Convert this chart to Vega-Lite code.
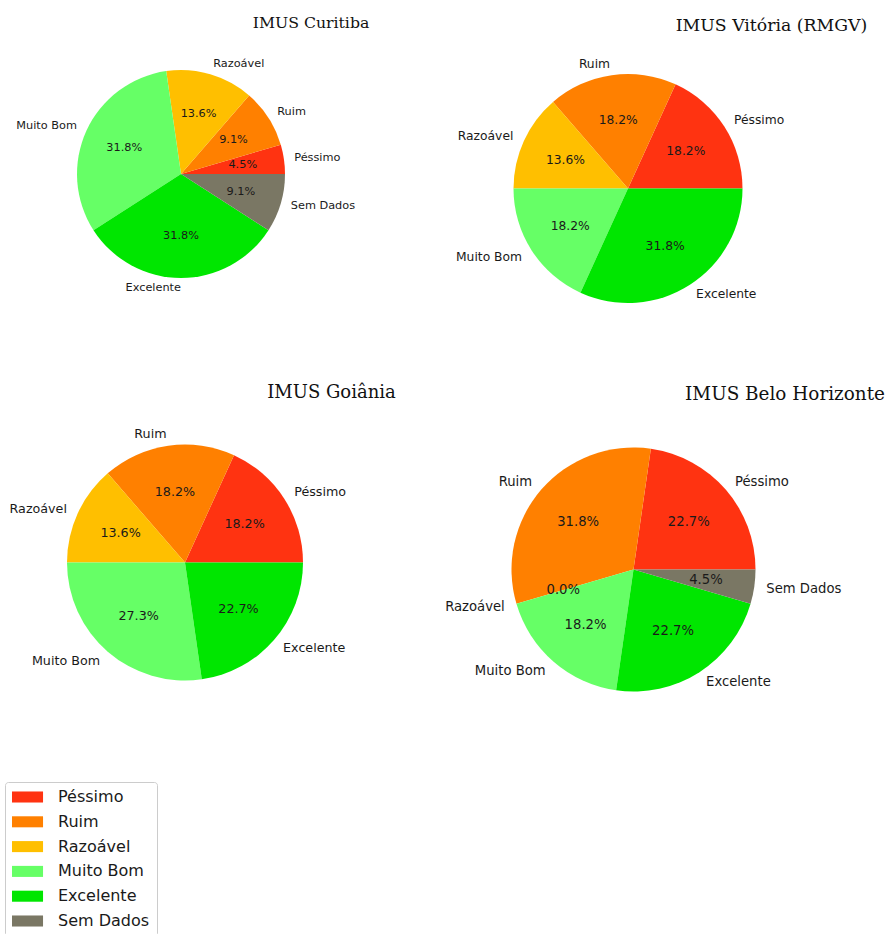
{
  "$schema": "https://vega.github.io/schema/vega-lite/v6.json",
  "padding": {"left": 0, "top": 14, "right": 0, "bottom": 0},
  "background": "white",
  "data": {
    "values": [
      {"city": "Curitiba", "cat": "Péssimo", "k": 1, "n": 1, "share": 0.045},
      {"city": "Curitiba", "cat": "Ruim", "k": 2, "n": 2, "share": 0.091},
      {"city": "Curitiba", "cat": "Razoável", "k": 3, "n": 3, "share": 0.136},
      {"city": "Curitiba", "cat": "Muito Bom", "k": 4, "n": 7, "share": 0.318},
      {"city": "Curitiba", "cat": "Excelente", "k": 5, "n": 7, "share": 0.318},
      {"city": "Curitiba", "cat": "Sem Dados", "k": 6, "n": 2, "share": 0.091},
      {"city": "Vitória", "cat": "Péssimo", "k": 1, "n": 4, "share": 0.182},
      {"city": "Vitória", "cat": "Ruim", "k": 2, "n": 4, "share": 0.182},
      {"city": "Vitória", "cat": "Razoável", "k": 3, "n": 3, "share": 0.136},
      {"city": "Vitória", "cat": "Muito Bom", "k": 4, "n": 4, "share": 0.182},
      {"city": "Vitória", "cat": "Excelente", "k": 5, "n": 7, "share": 0.318},
      {"city": "Goiânia", "cat": "Péssimo", "k": 1, "n": 4, "share": 0.182},
      {"city": "Goiânia", "cat": "Ruim", "k": 2, "n": 4, "share": 0.182},
      {"city": "Goiânia", "cat": "Razoável", "k": 3, "n": 3, "share": 0.136},
      {"city": "Goiânia", "cat": "Muito Bom", "k": 4, "n": 6, "share": 0.273},
      {"city": "Goiânia", "cat": "Excelente", "k": 5, "n": 5, "share": 0.227},
      {"city": "Belo Horizonte", "cat": "Péssimo", "k": 1, "n": 5, "share": 0.227},
      {"city": "Belo Horizonte", "cat": "Ruim", "k": 2, "n": 7, "share": 0.318},
      {"city": "Belo Horizonte", "cat": "Razoável", "k": 3, "n": 0, "share": 0.0},
      {"city": "Belo Horizonte", "cat": "Muito Bom", "k": 4, "n": 4, "share": 0.182},
      {"city": "Belo Horizonte", "cat": "Excelente", "k": 5, "n": 5, "share": 0.227},
      {"city": "Belo Horizonte", "cat": "Sem Dados", "k": 6, "n": 1, "share": 0.045}
    ]
  },
  "bounds": "flush",
  "spacing": 370,
  "vconcat": [
    {
      "bounds": "flush",
      "spacing": 138,
      "hconcat": [
        {
          "width": 362, "height": 268,
          "title": {"text": "IMUS Curitiba", "dx": 130, "offset": 8.5, "fontSize": 15.7},
          "transform": [{"filter": "datum.city == 'Curitiba'"}],
          "layer": [
            {"mark": {"type": "arc", "outerRadius": 104},
             "encoding": {
               "theta": {"field": "n", "type": "quantitative", "stack": true, "scale": {"range": [1.5707963, -4.712389]}},
               "order": {"field": "k", "type": "quantitative"},
               "color": {"field": "cat", "type": "nominal", "scale": {"domain": ["Péssimo", "Ruim", "Razoável", "Muito Bom", "Excelente", "Sem Dados"], "range": ["#ff3311", "#ff8000", "#ffbf00", "#66ff66", "#00e600", "#7a7764"]}}}},
            {"mark": {"type": "text", "radius": 62.4, "fontSize": 11.3},
             "encoding": {
               "theta": {"field": "n", "type": "quantitative", "stack": true},
               "order": {"field": "k", "type": "quantitative"},
               "detail": {"field": "cat"},
               "text": {"field": "share", "type": "quantitative", "format": ".1%"}}},
            {"mark": {"type": "text", "radius": 114.4, "fontSize": 11.3, "align": "left"},
             "encoding": {
               "theta": {"field": "n", "type": "quantitative", "stack": true},
               "order": {"field": "k", "type": "quantitative"},
               "detail": {"field": "cat"},
               "text": {"condition": {"test": "(datum.n_start + datum.n_end) / 44 >= 0.25 && (datum.n_start + datum.n_end) / 44 <= 0.75", "value": ""}, "field": "cat", "type": "nominal"}}},
            {"mark": {"type": "text", "radius": 114.4, "fontSize": 11.3, "align": "right"},
             "encoding": {
               "theta": {"field": "n", "type": "quantitative", "stack": true},
               "order": {"field": "k", "type": "quantitative"},
               "detail": {"field": "cat"},
               "text": {"condition": {"test": "(datum.n_start + datum.n_end) / 44 < 0.25 || (datum.n_start + datum.n_end) / 44 > 0.75", "value": ""}, "field": "cat", "type": "nominal"}}}
          ]
        },
        {
          "width": 256, "height": 297,
          "title": {"text": "IMUS Vitória (RMGV)", "dx": 143.5, "offset": 6, "fontSize": 17.3},
          "transform": [{"filter": "datum.city == 'Vitória'"}],
          "layer": [
            {"mark": {"type": "arc", "outerRadius": 114.5},
             "encoding": {
               "theta": {"field": "n", "type": "quantitative", "stack": true, "scale": {"range": [1.5707963, -4.712389]}},
               "order": {"field": "k", "type": "quantitative"},
               "color": {"field": "cat", "type": "nominal", "scale": {"domain": ["Péssimo", "Ruim", "Razoável", "Muito Bom", "Excelente", "Sem Dados"], "range": ["#ff3311", "#ff8000", "#ffbf00", "#66ff66", "#00e600", "#7a7764"]}}}},
            {"mark": {"type": "text", "radius": 68.7, "fontSize": 12.3},
             "encoding": {
               "theta": {"field": "n", "type": "quantitative", "stack": true},
               "order": {"field": "k", "type": "quantitative"},
               "detail": {"field": "cat"},
               "text": {"field": "share", "type": "quantitative", "format": ".1%"}}},
            {"mark": {"type": "text", "radius": 126, "fontSize": 12.3, "align": "left"},
             "encoding": {
               "theta": {"field": "n", "type": "quantitative", "stack": true},
               "order": {"field": "k", "type": "quantitative"},
               "detail": {"field": "cat"},
               "text": {"condition": {"test": "(datum.n_start + datum.n_end) / 44 >= 0.25 && (datum.n_start + datum.n_end) / 44 <= 0.75", "value": ""}, "field": "cat", "type": "nominal"}}},
            {"mark": {"type": "text", "radius": 126, "fontSize": 12.3, "align": "right"},
             "encoding": {
               "theta": {"field": "n", "type": "quantitative", "stack": true},
               "order": {"field": "k", "type": "quantitative"},
               "detail": {"field": "cat"},
               "text": {"condition": {"test": "(datum.n_start + datum.n_end) / 44 < 0.25 || (datum.n_start + datum.n_end) / 44 > 0.75", "value": ""}, "field": "cat", "type": "nominal"}}}
          ]
        }
      ]
    },
    {
      "bounds": "flush",
      "spacing": 135.5,
      "hconcat": [
        {
          "width": 370, "height": 305,
          "title": {"text": "IMUS Goiânia", "dx": 146.5, "offset": 8.5, "fontSize": 18},
          "transform": [{"filter": "datum.city == 'Goiânia'"}],
          "layer": [
            {"mark": {"type": "arc", "outerRadius": 118},
             "encoding": {
               "theta": {"field": "n", "type": "quantitative", "stack": true, "scale": {"range": [1.5707963, -4.712389]}},
               "order": {"field": "k", "type": "quantitative"},
               "color": {"field": "cat", "type": "nominal", "scale": {"domain": ["Péssimo", "Ruim", "Razoável", "Muito Bom", "Excelente", "Sem Dados"], "range": ["#ff3311", "#ff8000", "#ffbf00", "#66ff66", "#00e600", "#7a7764"]}}}},
            {"mark": {"type": "text", "radius": 70.8, "fontSize": 12.7},
             "encoding": {
               "theta": {"field": "n", "type": "quantitative", "stack": true},
               "order": {"field": "k", "type": "quantitative"},
               "detail": {"field": "cat"},
               "text": {"field": "share", "type": "quantitative", "format": ".1%"}}},
            {"mark": {"type": "text", "radius": 129.8, "fontSize": 12.7, "align": "left"},
             "encoding": {
               "theta": {"field": "n", "type": "quantitative", "stack": true},
               "order": {"field": "k", "type": "quantitative"},
               "detail": {"field": "cat"},
               "text": {"condition": {"test": "(datum.n_start + datum.n_end) / 44 >= 0.25 && (datum.n_start + datum.n_end) / 44 <= 0.75", "value": ""}, "field": "cat", "type": "nominal"}}},
            {"mark": {"type": "text", "radius": 129.8, "fontSize": 12.7, "align": "right"},
             "encoding": {
               "theta": {"field": "n", "type": "quantitative", "stack": true},
               "order": {"field": "k", "type": "quantitative"},
               "detail": {"field": "cat"},
               "text": {"condition": {"test": "(datum.n_start + datum.n_end) / 44 < 0.25 || (datum.n_start + datum.n_end) / 44 > 0.75", "value": ""}, "field": "cat", "type": "nominal"}}}
          ]
        },
        {
          "width": 256, "height": 319,
          "title": {"text": "IMUS Belo Horizonte", "dx": 151.5, "offset": 6.5, "fontSize": 18.4},
          "transform": [{"filter": "datum.city == 'Belo Horizonte'"}],
          "layer": [
            {"mark": {"type": "arc", "outerRadius": 122},
             "encoding": {
               "theta": {"field": "n", "type": "quantitative", "stack": true, "scale": {"range": [1.5707963, -4.712389]}},
               "order": {"field": "k", "type": "quantitative"},
               "color": {"field": "cat", "type": "nominal", "scale": {"domain": ["Péssimo", "Ruim", "Razoável", "Muito Bom", "Excelente", "Sem Dados"], "range": ["#ff3311", "#ff8000", "#ffbf00", "#66ff66", "#00e600", "#7a7764"]}}}},
            {"mark": {"type": "text", "radius": 73.2, "fontSize": 13.2},
             "encoding": {
               "theta": {"field": "n", "type": "quantitative", "stack": true},
               "order": {"field": "k", "type": "quantitative"},
               "detail": {"field": "cat"},
               "text": {"field": "share", "type": "quantitative", "format": ".1%"}}},
            {"mark": {"type": "text", "radius": 134.2, "fontSize": 13.2, "align": "left"},
             "encoding": {
               "theta": {"field": "n", "type": "quantitative", "stack": true},
               "order": {"field": "k", "type": "quantitative"},
               "detail": {"field": "cat"},
               "text": {"condition": {"test": "(datum.n_start + datum.n_end) / 44 >= 0.25 && (datum.n_start + datum.n_end) / 44 <= 0.75", "value": ""}, "field": "cat", "type": "nominal"}}},
            {"mark": {"type": "text", "radius": 134.2, "fontSize": 13.2, "align": "right"},
             "encoding": {
               "theta": {"field": "n", "type": "quantitative", "stack": true},
               "order": {"field": "k", "type": "quantitative"},
               "detail": {"field": "cat"},
               "text": {"condition": {"test": "(datum.n_start + datum.n_end) / 44 < 0.25 || (datum.n_start + datum.n_end) / 44 > 0.75", "value": ""}, "field": "cat", "type": "nominal"}}}
          ]
        }
      ]
    }
  ],
  "resolve": {"scale": {"color": "shared"}},
  "config": {
    "view": {"stroke": null},
    "font": "DejaVu Sans",
    "text": {"color": "#1a1a1a", "baseline": "middle", "font": "DejaVu Sans"},
    "arc": {"stroke": null},
    "title": {"font": "DejaVu Serif", "fontSize": 16, "fontWeight": "normal", "color": "#111111", "anchor": "middle", "baseline": "alphabetic"},
    "legend": {
      "orient": "none", "legendX": 5, "legendY": 742,
      "title": null,
      "fillColor": "white", "strokeColor": "#cccccc", "cornerRadius": 3, "padding": 7,
      "labelFont": "DejaVu Sans", "labelFontSize": 16, "labelColor": "#1a1a1a", "labelOffset": 30,
      "symbolType": "M-1,-0.69H2.88V0.69H-1Z", "symbolSize": 256, "symbolStrokeWidth": 0,
      "rowPadding": 8.8, "labelLimit": 200
    }
  }
}
